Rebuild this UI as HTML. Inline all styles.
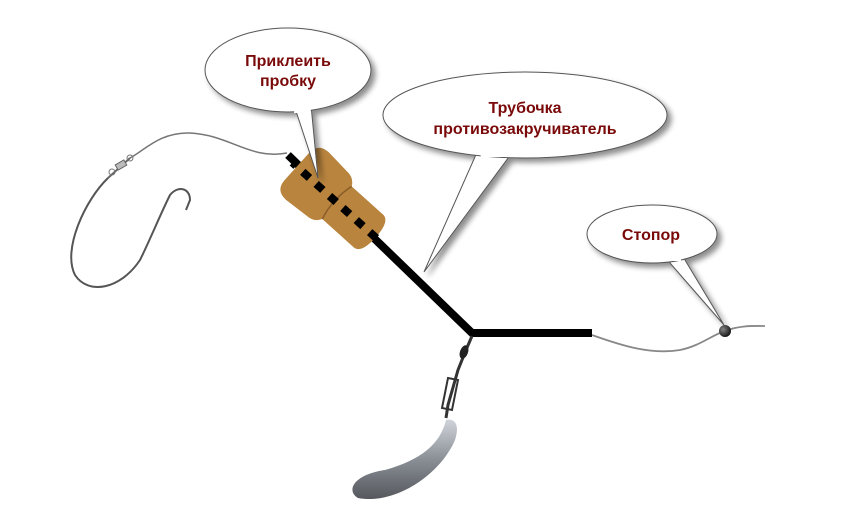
<!DOCTYPE html>
<html><head><meta charset="utf-8"><style>
html,body{margin:0;padding:0;background:#fff;}
svg{display:block;}
text{font-family:"Liberation Sans",sans-serif;font-weight:bold;fill:#7a0a0a;font-size:16px;}
</style></head><body>
<svg width="854" height="523" viewBox="0 0 854 523" xmlns="http://www.w3.org/2000/svg">
<defs>
<filter id="sh" x="-20%" y="-20%" width="150%" height="150%"><feGaussianBlur in="SourceAlpha" stdDeviation="3"/><feOffset dx="4" dy="4"/><feComponentTransfer><feFuncA type="linear" slope="0.45"/></feComponentTransfer><feMerge><feMergeNode/><feMergeNode in="SourceGraphic"/></feMerge></filter>
<linearGradient id="lead" x1="0" y1="0" x2="0" y2="1"><stop offset="0" stop-color="#d0d4da"/><stop offset="0.5" stop-color="#8a8f96"/><stop offset="1" stop-color="#55585d"/></linearGradient>
<radialGradient id="bead" cx="0.35" cy="0.35" r="0.7"><stop offset="0" stop-color="#888"/><stop offset="1" stop-color="#111"/></radialGradient>
</defs>
<!-- fishing lines -->
<path d="M287,153 C250,160 230,135 190,133 C160,132 145,150 130,158" fill="none" stroke="#777" stroke-width="1.5"/>
<path d="M108,178 C85,200 62,250 75,275 C88,295 120,290 140,260 C150,240 160,215 170,195 C178,185 190,188 190,200 L186,210" fill="none" stroke="#555" stroke-width="2"/>
<path d="M130,158 L108,178" stroke="#666" stroke-width="2"/>
<rect x="116" y="162" width="10" height="6" fill="#bbb" stroke="#666" transform="rotate(-30 121 165)"/>
<circle cx="130" cy="158" r="3" fill="none" stroke="#777"/>
<circle cx="112" cy="172" r="3" fill="none" stroke="#777"/>
<path d="M592,335 C620,345 650,355 680,350 C700,346 712,335 725,331 C740,325 755,326 765,326" fill="none" stroke="#888" stroke-width="1.8"/>
<!-- tube -->
<path d="M288,155 L472,333 L592,333" fill="none" stroke="#000" stroke-width="8" stroke-linejoin="miter"/>
<!-- cork -->
<g transform="translate(334,200) rotate(42)">
<path d="M-50,-18 Q-50,-32 -36,-32 L-10,-30 Q0,-30 4,-22 L46,-22 Q56,-22 56,0 Q56,22 46,22 L4,22 Q0,30 -10,30 L-36,32 Q-50,32 -50,18 Z" fill="#b8843e"/>
<path d="M4,-22 Q-2,0 4,22" fill="none" stroke="#8a5c28" stroke-width="1.5"/>
<line x1="-56" y1="0" x2="60" y2="0" stroke="#000" stroke-width="8" stroke-dasharray="9,9" stroke-dashoffset="4"/>
</g>
<!-- bead -->
<circle cx="725" cy="331" r="6" fill="url(#bead)"/>
<!-- swivel + sinker -->
<path d="M472,336 L466,350 L458,370 L448,405 L446,418" fill="none" stroke="#333" stroke-width="3"/>
<ellipse cx="464" cy="352" rx="4" ry="7" fill="#222" transform="rotate(20 464 352)"/>
<path d="M448,378 L458,380 L452,410 L442,408 Z" fill="none" stroke="#333" stroke-width="2"/>
<path d="M446,420 C440,445 420,460 385,470 C355,474 345,490 358,498 C395,505 440,475 455,440 C460,425 455,418 446,420 Z" fill="url(#lead)"/>
<!-- bubbles -->
<g filter="url(#sh)" stroke="#555" stroke-width="1" fill="#fff">
<polygon points="294,105 311,105 318,178"/>
<ellipse cx="288" cy="70" rx="83" ry="42"/>
<polygon points="478,150 514,150 424,272"/>
<ellipse cx="525" cy="115" rx="142" ry="43"/>
<polygon points="663,255 682,255 724,325"/>
<ellipse cx="652" cy="234" rx="65" ry="29"/>
</g>
<g fill="#fff">
<polygon points="295,104 310,104 311,113 294,113"/>
<polygon points="479,150 513,150 512,157 481,157"/>
<polygon points="664,255 681,255 681,261 666,261"/>
</g>
<text x="288" y="66" text-anchor="middle">Приклеить</text>
<text x="288" y="86" text-anchor="middle">пробку</text>
<text x="525" y="113" text-anchor="middle">Трубочка</text>
<text x="525" y="134" text-anchor="middle">противозакручиватель</text>
<text x="651" y="240" text-anchor="middle">Стопор</text>
</svg>
</body></html>
